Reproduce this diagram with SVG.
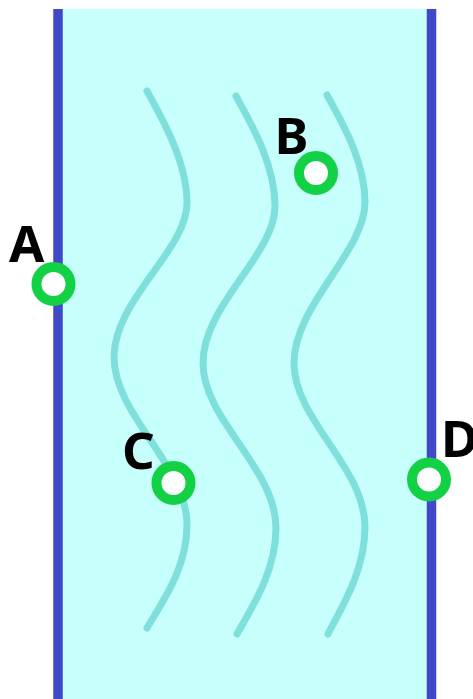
<svg xmlns="http://www.w3.org/2000/svg" width="473" height="699" viewBox="0 0 473 699">
<style>
.wave{fill:none;stroke:#7fdfda;stroke-width:7;stroke-linecap:round}
.wall{stroke:#4148c8;stroke-width:9.5}
.pt{fill:#ffffff;stroke:#12d145;stroke-width:10}
.lbl{font-family:"Noto Sans","Open Sans","DejaVu Sans",sans-serif;font-weight:bold;font-size:51px;fill:#000}
</style>
<rect x="0" y="0" width="473" height="699" fill="#ffffff"/>
<rect x="58" y="9" width="373.5" height="690" fill="#c6fffc"/>
<g id="walls">
<line class="wall" x1="58" y1="9" x2="58" y2="699"/>
<line class="wall" x1="431.5" y1="9" x2="431.5" y2="699"/>
</g>
<g id="connectors">
<path class="wave" d="M147,91 C160,115 187,160 187,203 C187,250 114,300 114,357 C114,415 187,465 187,525 C187,570 160,605 147,628"/>
<path class="wave" d="M236,96 C249,120 275,163 275,206 C275,255 203,305 203,363 C203,420 276,468 276,528 C276,573 250,610 237,634"/>
<path class="wave" d="M327,95 C340,119 365,160 365,202 C365,252 294,305 294,363 C294,420 365,467 365,527 C365,572 340,610 328,634"/>
</g>
<g id="A"><circle class="pt" cx="53.5" cy="284" r="17"/><text class="lbl" x="9" y="262">A</text></g>
<g id="B"><circle class="pt" cx="316" cy="173" r="17"/><text class="lbl" x="274.5" y="154">B</text></g>
<g id="C"><circle class="pt" cx="173.5" cy="483" r="17"/><text class="lbl" x="122" y="469">C</text></g>
<g id="D"><circle class="pt" cx="429" cy="479.5" r="17"/><text class="lbl" x="441" y="457">D</text></g>
</svg>
